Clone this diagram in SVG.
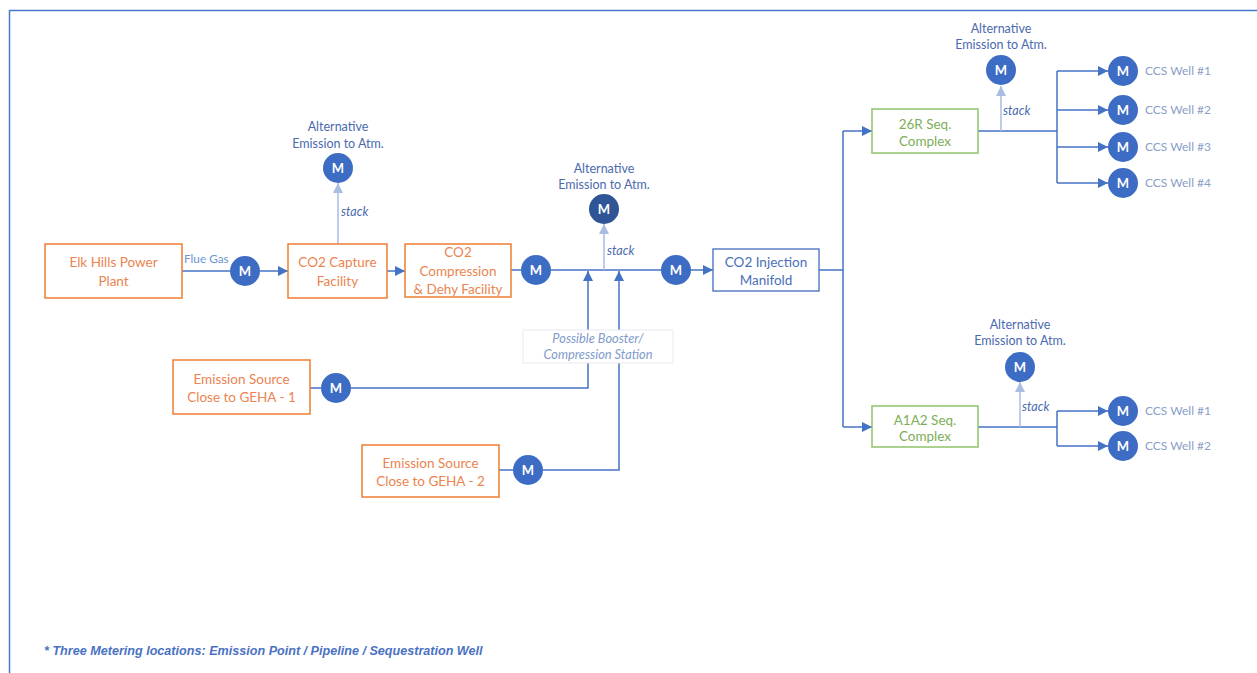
<svg xmlns="http://www.w3.org/2000/svg" width="1257" height="673" viewBox="0 0 1257 673">
  <defs>
    <marker id="arrow" viewBox="0 0 10 10" refX="10" refY="5" markerWidth="10" markerHeight="10" markerUnits="userSpaceOnUse" orient="auto">
      <path d="M0,0 L10,5 L0,10 z" fill="#4472C4"/>
    </marker>
    <marker id="arrowLight" viewBox="0 0 10 10" refX="10" refY="5" markerWidth="10" markerHeight="10" markerUnits="userSpaceOnUse" orient="auto">
      <path d="M0,0 L10,5 L0,10 z" fill="#A9BDE3"/>
    </marker>
  </defs>
  <style>
    text { font-family: Lato, "Open Sans", "Liberation Sans", sans-serif; }
    .box { fill: #ffffff; stroke-width: 1.5; }
    .src { stroke: #ED7D31; }
    .seq { stroke: #8FC46A; }
    .man { stroke: #5B7FC4; }
    .srcText { fill: #EB8450; font-size: 13.5px; text-anchor: middle; }
    .seqText { fill: #7DAE56; font-size: 13.5px; text-anchor: middle; }
    .manText { fill: #4A6FB8; font-size: 13.5px; text-anchor: middle; }
    .line { fill: none; stroke: #4472C4; stroke-width: 1.5; }
    .stackLine { fill: none; stroke: #A9BDE3; stroke-width: 1.5; }
    .meter { fill: #3D6CC4; }
    .meterDark { fill: #2F5597; }
    .m { fill: #ffffff; font-size: 13px; font-weight: bold; text-anchor: middle; }
    .alt { fill: #4A6AAE; font-size: 12.5px; text-anchor: middle; }
    .stack { fill: #4A6AAE; font-size: 12.5px; font-style: italic; }
    .well { fill: #8AA0C8; font-size: 12px; }
    .flue { fill: #6E95D4; font-size: 11.8px; }
    .booster { fill: #7F9BCB; font-size: 12.8px; font-style: italic; text-anchor: middle; }
  </style>

  <!-- page frame -->
  <path d="M9.5,673 L9.5,10.5 L1257,10.5" fill="none" stroke="#4A78D0" stroke-width="1.5"/>

  <!-- connectors -->
  <g id="connectors">
    <line class="line" x1="182" y1="271" x2="230" y2="271"/>
    <line class="line" x1="260" y1="271" x2="288" y2="271" marker-end="url(#arrow)"/>
    <line class="line" x1="387" y1="271" x2="405" y2="271" marker-end="url(#arrow)"/>
    <line class="stackLine" x1="338" y1="244" x2="338" y2="183" marker-end="url(#arrowLight)"/>
    <line class="line" x1="511" y1="270" x2="521" y2="270"/>
    <line class="line" x1="551" y1="270" x2="661" y2="270"/>
    <line class="stackLine" x1="604" y1="270" x2="604" y2="224" marker-end="url(#arrowLight)"/>
    <line class="line" x1="588" y1="331" x2="588" y2="271" marker-end="url(#arrow)"/>
    <line class="line" x1="619" y1="331" x2="619" y2="271" marker-end="url(#arrow)"/>
    <polyline class="line" points="588,362 588,388 351,388"/>
    <line class="line" x1="310" y1="388" x2="321" y2="388"/>
    <polyline class="line" points="619,362 619,470 543,470"/>
    <line class="line" x1="499" y1="470" x2="513" y2="470"/>
    <line class="line" x1="691" y1="270" x2="713" y2="270" marker-end="url(#arrow)"/>
    <line class="line" x1="819" y1="270" x2="843" y2="270"/>
    <line class="line" x1="843" y1="131" x2="843" y2="427"/>
    <line class="line" x1="843" y1="131" x2="872" y2="131" marker-end="url(#arrow)"/>
    <line class="line" x1="843" y1="427" x2="872" y2="427" marker-end="url(#arrow)"/>
    <!-- 26R branches -->
    <line class="line" x1="978" y1="131" x2="1057" y2="131"/>
    <line class="stackLine" x1="1001" y1="131" x2="1001" y2="86" marker-end="url(#arrowLight)"/>
    <line class="line" x1="1057" y1="71" x2="1057" y2="183"/>
    <line class="line" x1="1057" y1="71" x2="1108" y2="71" marker-end="url(#arrow)"/>
    <line class="line" x1="1057" y1="110" x2="1108" y2="110" marker-end="url(#arrow)"/>
    <line class="line" x1="1057" y1="147" x2="1108" y2="147" marker-end="url(#arrow)"/>
    <line class="line" x1="1057" y1="183" x2="1108" y2="183" marker-end="url(#arrow)"/>
    <!-- A1A2 branches -->
    <line class="line" x1="978" y1="427" x2="1057" y2="427"/>
    <line class="stackLine" x1="1020" y1="427" x2="1020" y2="382" marker-end="url(#arrowLight)"/>
    <line class="line" x1="1057" y1="411" x2="1057" y2="446"/>
    <line class="line" x1="1057" y1="411" x2="1108" y2="411" marker-end="url(#arrow)"/>
    <line class="line" x1="1057" y1="446" x2="1108" y2="446" marker-end="url(#arrow)"/>
  </g>

  <!-- labels on connectors -->
  <g id="connector-labels">
    <text class="flue" x="184" y="263">Flue Gas</text>
    <text class="stack" x="341" y="216">stack</text>
    <text class="stack" x="607" y="255">stack</text>
    <text class="stack" x="1003" y="115">stack</text>
    <text class="stack" x="1022" y="411">stack</text>
  </g>

  <g id="elk-hills">
    <rect class="box src" x="45" y="244" width="137" height="54"/>
    <text class="srcText" x="113.5" y="266.5">Elk Hills Power</text>
    <text class="srcText" x="113.5" y="285.5">Plant</text>
  </g>

  <g id="capture">
    <rect class="box src" x="288" y="244" width="99" height="54"/>
    <text class="srcText" x="337.5" y="266.5">CO2 Capture</text>
    <text class="srcText" x="337.5" y="285.5">Facility</text>
  </g>

  <g id="compression">
    <rect class="box src" x="405" y="244" width="106" height="53"/>
    <text class="srcText" x="458" y="256.5">CO2</text>
    <text class="srcText" x="458" y="275.5">Compression</text>
    <text class="srcText" x="458" y="293.5">&amp; Dehy Facility</text>
  </g>

  <g id="source-1">
    <rect class="box src" x="173" y="360" width="137" height="54"/>
    <text class="srcText" x="241.5" y="383.5">Emission Source</text>
    <text class="srcText" x="241.5" y="401.5">Close to GEHA - 1</text>
  </g>

  <g id="source-2">
    <rect class="box src" x="362" y="445" width="137" height="52"/>
    <text class="srcText" x="430.5" y="467.5">Emission Source</text>
    <text class="srcText" x="430.5" y="485.5">Close to GEHA - 2</text>
  </g>

  <g id="booster">
    <rect x="523" y="330" width="150" height="33" fill="#ffffff" stroke="#E6EAF1" stroke-width="1"/>
    <text class="booster" x="598" y="343">Possible Booster/</text>
    <text class="booster" x="598" y="359">Compression Station</text>
  </g>

  <g id="manifold">
    <rect class="box man" x="713" y="249" width="106" height="42"/>
    <text class="manText" x="766" y="266.5">CO2 Injection</text>
    <text class="manText" x="766" y="284.5">Manifold</text>
  </g>

  <g id="seq-26r">
    <rect class="box seq" x="872" y="109" width="106" height="44"/>
    <text class="seqText" x="925" y="128.5">26R Seq.</text>
    <text class="seqText" x="925" y="145.5">Complex</text>
  </g>

  <g id="seq-a1a2">
    <rect class="box seq" x="872" y="406" width="106" height="41"/>
    <text class="seqText" x="925" y="424.5">A1A2 Seq.</text>
    <text class="seqText" x="925" y="440.5">Complex</text>
  </g>

  <!-- meters -->
  <g id="meter-flue">
    <circle class="meter" cx="245" cy="271" r="15"/>
    <text class="m" x="245" y="275.5">M</text>
  </g>
  <g id="meter-capture-vent">
    <text class="alt" x="338" y="131">Alternative</text>
    <text class="alt" x="338" y="148">Emission to Atm.</text>
    <circle class="meter" cx="338" cy="168" r="15"/>
    <text class="m" x="338" y="172.5">M</text>
  </g>
  <g id="meter-compression">
    <circle class="meter" cx="536" cy="270" r="15"/>
    <text class="m" x="536" y="274.5">M</text>
  </g>
  <g id="meter-pipeline-vent">
    <text class="alt" x="604" y="173">Alternative</text>
    <text class="alt" x="604" y="189">Emission to Atm.</text>
    <circle class="meterDark" cx="604" cy="209" r="15"/>
    <text class="m" x="604" y="213.5">M</text>
  </g>
  <g id="meter-manifold">
    <circle class="meter" cx="676" cy="270" r="15"/>
    <text class="m" x="676" y="274.5">M</text>
  </g>
  <g id="meter-source-1">
    <circle class="meter" cx="336" cy="388" r="15"/>
    <text class="m" x="336" y="392.5">M</text>
  </g>
  <g id="meter-source-2">
    <circle class="meter" cx="528" cy="470" r="15"/>
    <text class="m" x="528" y="474.5">M</text>
  </g>
  <g id="meter-26r-vent">
    <text class="alt" x="1001" y="33">Alternative</text>
    <text class="alt" x="1001" y="49">Emission to Atm.</text>
    <circle class="meter" cx="1001" cy="70" r="15"/>
    <text class="m" x="1001" y="74.5">M</text>
  </g>
  <g id="meter-a1a2-vent">
    <text class="alt" x="1020" y="329">Alternative</text>
    <text class="alt" x="1020" y="345">Emission to Atm.</text>
    <circle class="meter" cx="1020" cy="367" r="15"/>
    <text class="m" x="1020" y="371.5">M</text>
  </g>

  <g id="well-26r-1">
    <circle class="meter" cx="1123" cy="71" r="15"/>
    <text class="m" x="1123" y="75.5">M</text>
    <text class="well" x="1145" y="75">CCS Well #1</text>
  </g>
  <g id="well-26r-2">
    <circle class="meter" cx="1123" cy="110" r="15"/>
    <text class="m" x="1123" y="114.5">M</text>
    <text class="well" x="1145" y="114">CCS Well #2</text>
  </g>
  <g id="well-26r-3">
    <circle class="meter" cx="1123" cy="147" r="15"/>
    <text class="m" x="1123" y="151.5">M</text>
    <text class="well" x="1145" y="151">CCS Well #3</text>
  </g>
  <g id="well-26r-4">
    <circle class="meter" cx="1123" cy="183" r="15"/>
    <text class="m" x="1123" y="187.5">M</text>
    <text class="well" x="1145" y="187">CCS Well #4</text>
  </g>
  <g id="well-a1a2-1">
    <circle class="meter" cx="1123" cy="411" r="15"/>
    <text class="m" x="1123" y="415.5">M</text>
    <text class="well" x="1145" y="415">CCS Well #1</text>
  </g>
  <g id="well-a1a2-2">
    <circle class="meter" cx="1123" cy="446" r="15"/>
    <text class="m" x="1123" y="450.5">M</text>
    <text class="well" x="1145" y="450">CCS Well #2</text>
  </g>

  <g id="footnote">
    <text x="44" y="655" fill="#4A72C4" font-size="12.6px" font-weight="bold" font-style="italic" style="font-family: 'Liberation Sans', Arial, sans-serif;">* Three Metering locations: Emission Point / Pipeline / Sequestration Well</text>
  </g>
</svg>
